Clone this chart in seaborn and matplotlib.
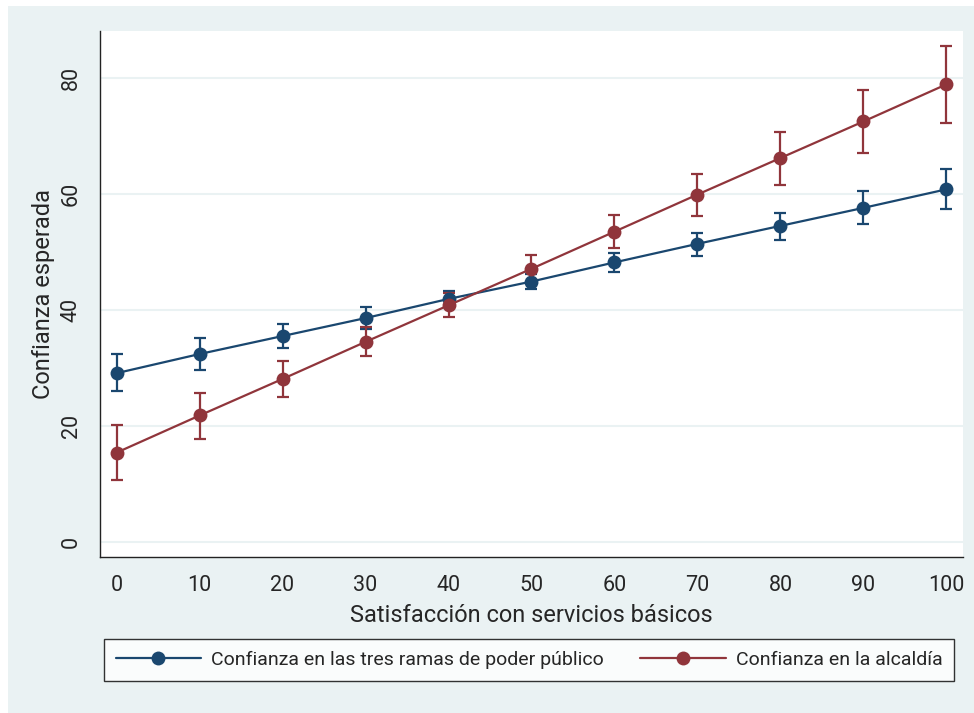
import numpy as np
import pandas as pd
import seaborn as sns
import matplotlib.pyplot as plt
from matplotlib.patches import Rectangle

# valores
satisfaccion = [0, 10, 20, 30, 40, 50, 60, 70, 80, 90, 100]

ramas = [29.1, 32.4, 35.5, 38.6, 41.9, 44.9, 48.2, 51.4, 54.5, 57.6, 60.8]
ramas_lo = [26.0, 29.7, 33.4, 36.8, 40.6, 43.6, 46.5, 49.3, 52.1, 54.8, 57.4]
ramas_hi = [32.4, 35.1, 37.6, 40.5, 43.2, 46.2, 49.8, 53.3, 56.8, 60.5, 64.3]

alcaldia = [15.4, 21.8, 28.1, 34.5, 40.8, 47.1, 53.5, 59.9, 66.2, 72.5, 78.9]
alcaldia_lo = [10.6, 17.8, 25.0, 32.0, 38.7, 44.7, 50.6, 56.2, 61.6, 67.0, 72.3]
alcaldia_hi = [20.2, 25.7, 31.2, 37.0, 42.9, 49.5, 56.4, 63.5, 70.7, 78.0, 85.5]

series = ["Confianza en las tres ramas de poder público", "Confianza en la alcaldía"]
colores = ["#1a476f", "#90353b"]

df = pd.DataFrame({
    "x": satisfaccion * 2,
    "y": ramas + alcaldia,
    "lo": ramas_lo + alcaldia_lo,
    "hi": ramas_hi + alcaldia_hi,
    "serie": [series[0]] * 11 + [series[1]] * 11,
})

sns.set_style("white")
plt.rcParams["font.family"] = ["Roboto", "DejaVu Sans"]

bg = "#eaf2f3"
fig = plt.figure(figsize=(9.74, 7.13), dpi=100, facecolor="white")
fig.patches.append(Rectangle((8 / 974, 0), 1, 707 / 713, transform=fig.transFigure,
                             facecolor=bg, edgecolor="none", zorder=-10))
ax = fig.add_axes([100 / 974, 1 - 557 / 713, 863 / 974, 526 / 713])
ax.set_facecolor("white")

for i, s in enumerate(series):
    d = df[df["serie"] == s]
    ax.errorbar(d["x"], d["y"], yerr=[d["y"] - d["lo"], d["hi"] - d["y"]],
                fmt="none", ecolor=colores[i], elinewidth=1.6, capsize=4.3,
                capthick=1.6, zorder=3)

sns.lineplot(data=df, x="x", y="y", hue="serie", palette=colores, marker="o",
             markersize=10, markeredgewidth=0, linewidth=1.6, ax=ax, legend=False,
             zorder=4)

ax.set_xlim(-2, 102)
ax.set_ylim(-2.6, 88.1)
ax.set_xticks(range(0, 101, 10))
ax.set_yticks(range(0, 81, 20))
ax.grid(axis="y", color=bg, linewidth=1.5)
ax.set_axisbelow(True)
for sp in ["top", "right"]:
    ax.spines[sp].set_visible(False)
for sp in ["left", "bottom"]:
    ax.spines[sp].set_color("#222222")
    ax.spines[sp].set_linewidth(1.0)
ax.tick_params(axis="both", direction="out", length=7, width=1.0, color="#222222",
               labelsize=15.5, pad=6)
for lab in ax.get_yticklabels():
    lab.set_rotation(90)
    lab.set_va("center")
ax.set_xlabel("Satisfacción con servicios básicos", fontsize=17, labelpad=6)
ax.set_ylabel("Confianza esperada", fontsize=17, labelpad=4)

handles = [plt.Line2D([], [], color=c, marker="o", markersize=10, markeredgewidth=0,
                      linewidth=1.6) for c in colores]
leg = fig.legend(handles, series, loc="center", ncol=2,
                 bbox_to_anchor=(529 / 974, 1 - 660 / 713), fontsize=14,
                 frameon=True, fancybox=False, handlelength=4.4, columnspacing=1.9,
                 handletextpad=0.5, borderpad=0.6)
leg.get_frame().set_edgecolor("black")
leg.get_frame().set_linewidth(1.0)

fig.savefig("out.png", dpi=100, facecolor=fig.get_facecolor())
